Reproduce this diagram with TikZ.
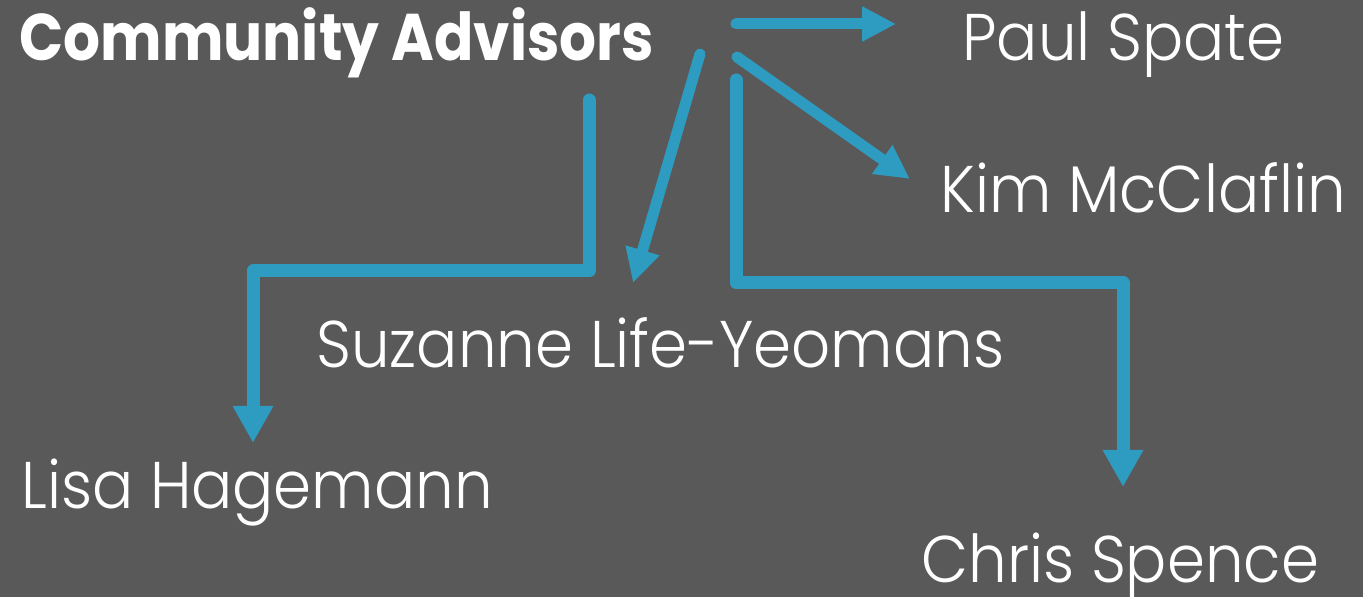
\documentclass[tikz,border=0pt]{standalone}
\usepackage{fontspec}
\setmainfont{Poppins}
\usetikzlibrary{arrows.meta}

\definecolor{advgrey}{HTML}{595959}
\definecolor{advblue}{HTML}{2E9BC1}
\newfontfamily\advfont[FakeStretch=0.925,UprightFont={* Light}]{Poppins}
\newfontfamily\advbold[FakeStretch=0.88]{Poppins}

\begin{document}
\begin{tikzpicture}[x=0.5pt,y=-0.5pt,
                    thin link/.style={-{Triangle[width=16.5pt,length=17pt]},line width=5.5pt,
                                      draw=advblue,line cap=round,line join=round},
                    thick link/.style={-{Triangle[width=19pt,length=18.5pt]},line width=6.5pt,
                                       draw=advblue,line cap=round,line join=round},
                    member/.style={anchor=base west,inner sep=0pt,text=white,
                                   font=\advfont\fontsize{33}{40}\selectfont}]

  \fill[advgrey] (0,0) rectangle (1363,597);
  \useasboundingbox (0,0) rectangle (1363,597);

  \node[member,font=\advbold\bfseries\fontsize{33}{40}\selectfont]
                         (adv)   at (19,61)   {Community Advisors};
  \node[member]          (paul)  at (962,61)  {Paul Spate};
  \node[member]          (kim)   at (940,213) {Kim McClaflin};
  \node[member]          (suz)   at (316,368) {Suzanne Life-Yeomans};
  \node[member]          (lisa)  at (21,509)  {Lisa Hagemann};
  \node[member]          (chris) at (921,582) {Chris Spence};

  % arrow ends
  \coordinate (paulA)  at (736,24);  \coordinate (paulB)  at (896,24);
  \coordinate (kimA)   at (737,57);  \coordinate (kimB)   at (910,179);
  \coordinate (suzA)   at (700,54);  \coordinate (suzB)   at (633,283);
  \coordinate (lisaA)  at (589,100); \coordinate (lisaB)  at (253,271);
  \coordinate (lisaC)  at (253,443);
  \coordinate (chrisA) at (736,80);  \coordinate (chrisB) at (1123,283);
  \coordinate (chrisC) at (1123,487);

  \path (paulA) edge [thin link] (paulB)
        (kimA)  edge [thin link] (kimB)
        (suzA)  edge [thin link] (suzB);

  \draw[thick link] (lisaA) |- (lisaB) -- (lisaC);
  \draw[thick link] (chrisA) |- (chrisB) -- (chrisC);
\end{tikzpicture}
\end{document}
